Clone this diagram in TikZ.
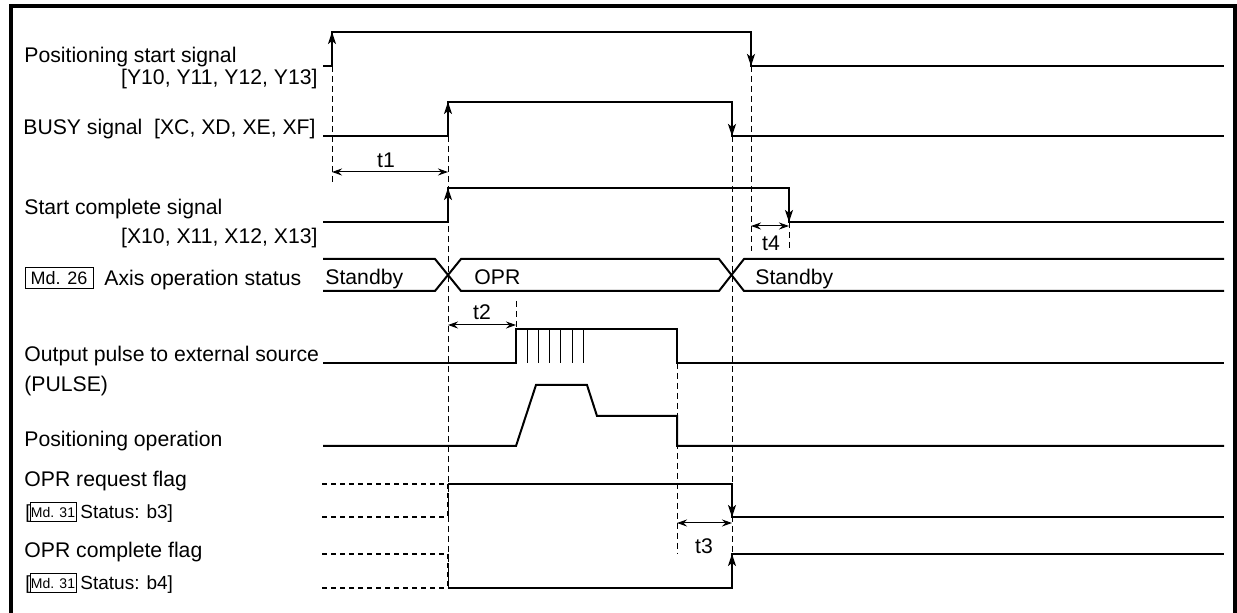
\documentclass[tikz,border=0pt]{standalone}
\usepackage{fontspec}
\setmainfont{Liberation Sans}
\usetikzlibrary{arrows.meta}

\begin{document}
\begin{tikzpicture}[x=0.5pt,y=-0.5pt,
  sig/.style={line width=1pt},
  edge/.style={line width=1pt,-{Stealth[length=6pt,width=4pt,inset=1.5pt]}},
  guide/.style={line width=0.5pt,dash pattern=on 3pt off 2pt},
  flagdash/.style={line width=1pt,dash pattern=on 2.5pt off 2pt},
  span/.style={line width=0.5pt,{Stealth[length=5pt,width=3.5pt]}-{Stealth[length=5pt,width=3.5pt]}},
  lbl/.style={inner sep=0pt,font=\fontsize{10.6}{12}\selectfont},
  small/.style={inner sep=0pt,font=\fontsize{9.5}{11}\selectfont},
  mdbox/.style={draw,line width=0.5pt,inner sep=0pt,minimum width=34pt,minimum height=10.5pt,font=\fontsize{9}{10}\selectfont},
  mdsmall/.style={draw,line width=0.5pt,inner sep=0pt,minimum width=23pt,minimum height=9.5pt,font=\fontsize{7}{8}\selectfont}]
  \useasboundingbox (0,0) rectangle (1237,613);
  % frame
  \draw[line width=2pt] (11,613) -- (11,6) -- (1235,6) -- (1235,613);

  % signal names
  \node[lbl,anchor=base west] (psA) at (24,63) {Positioning start signal};
  \node[lbl,anchor=base east] (psB) at (318,85) {[Y10, Y11, Y12, Y13]};
  \node[lbl,anchor=base west] (busy) at (23,135) {BUSY signal\ \ [XC, XD, XE, XF]};
  \node[lbl,anchor=base west] (scA) at (24,215) {Start complete signal};
  \node[lbl,anchor=base east] (scB) at (318,244) {[X10, X11, X12, X13]};
  \node[mdbox] (md26) at (59,278.5) {Md. 26};
  \node[lbl,anchor=base west] (axis) at (104,286) {Axis operation status};
  \node[lbl,anchor=base west] (outA) at (24,362) {Output pulse to external source};
  \node[lbl,anchor=base west] (outB) at (24,392) {(PULSE)};
  \node[lbl,anchor=base west] (posop) at (24,447) {Positioning operation};
  \node[lbl,anchor=base west] (reqA) at (24,487) {OPR request flag};
  \node[small,anchor=base west] (reqB) at (25,519) {[};
  \node[mdsmall] (md31a) at (53,512) {Md. 31};
  \node[small,anchor=base west] (reqC) at (80,519) {Status: b3]};
  \node[lbl,anchor=base west] (cplA) at (24,558) {OPR complete flag};
  \node[small,anchor=base west] (cplB) at (25,590) {[};
  \node[mdsmall] (md31b) at (53,583) {Md. 31};
  \node[small,anchor=base west] (cplC) at (80,590) {Status: b4]};

  % guide lines
  \draw[guide] (332,66) -- (332,184);
  \draw[guide] (448,136) -- (448,588);
  \draw[guide] (732,136) -- (732,554);
  \draw[guide] (751,66) -- (751,251);
  \draw[guide] (789,222) -- (789,251);
  \draw[guide] (516,301) -- (516,329);
  \draw[guide] (677,363) -- (677,554);

  % positioning start
  \draw[sig] (323,66) -- (332,66) -- (332,32) -- (751,32) -- (751,66) -- (1224,66);
  \draw[edge] (332,66) -- (332,32);
  \draw[edge] (751,32) -- (751,66);
  % busy
  \draw[sig] (323,136) -- (448,136) -- (448,102) -- (732,102) -- (732,136) -- (1224,136);
  \draw[edge] (448,136) -- (448,102);
  \draw[edge] (732,102) -- (732,136);
  % start complete
  \draw[sig] (323,222) -- (448,222) -- (448,188) -- (789,188) -- (789,222) -- (1224,222);
  \draw[edge] (448,222) -- (448,188);
  \draw[edge] (789,188) -- (789,222);

  % axis operation status
  \draw[sig] (323,259) -- (435,259) -- (461,291) -- (719,291) -- (744,259) -- (1224,259);
  \draw[sig] (323,291) -- (435,291) -- (461,259) -- (719,259) -- (744,291) -- (1224,291);
  \node[lbl,anchor=base west] (stbyA) at (325,285) {Standby};
  \node[lbl,anchor=base west] (opr) at (474,285) {OPR};
  \node[lbl,anchor=base west] (stbyB) at (755,285) {Standby};

  % output pulse
  \draw[sig] (323,363) -- (516,363) -- (516,329) -- (677,329) -- (677,363) -- (1224,363);
  \foreach \i in {0,...,5}
    \draw[line width=0.5pt] (527+11.3*\i,329) -- (527+11.3*\i,363);

  % positioning operation
  \draw[sig] (323,446) -- (516,446) -- (536,385) -- (587,385) -- (597,416)
    -- (677,416) -- (677,446) -- (1224,446);

  % OPR request flag
  \draw[flagdash] (322,484) -- (448,484);
  \draw[flagdash] (322,517) -- (448,517);
  \draw[flagdash] (448,484) -- (448,517);
  \draw[sig] (448,484) -- (732,484) -- (732,517) -- (1224,517);
  \draw[edge] (732,484) -- (732,517);
  % OPR complete flag
  \draw[flagdash] (322,554) -- (448,554);
  \draw[flagdash] (322,588) -- (448,588);
  \draw[flagdash] (448,554) -- (448,588);
  \draw[sig] (448,588) -- (732,588) -- (732,554) -- (1224,554);
  \draw[edge] (732,588) -- (732,554);

  % times
  \draw[span] (332,172) -- (448,172);
  \node[lbl] (tA) at (386,160) {t1};
  \draw[span] (448,325) -- (516,325);
  \node[lbl] (tB) at (482,312) {t2};
  \draw[span] (677,523) -- (732,523);
  \node[lbl] (tC) at (704,546) {t3};
  \draw[span] (751,226) -- (789,226);
  \node[lbl] (tD) at (771,243) {t4};
\end{tikzpicture}
\end{document}
